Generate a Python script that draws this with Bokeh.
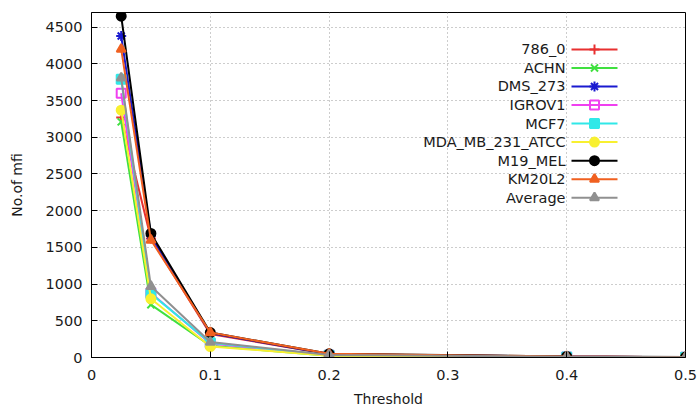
from bokeh.plotting import figure
from bokeh.models import Range1d, FixedTicker
from bokeh.core.properties import value
from bokeh.embed import file_html
from bokeh.resources import INLINE

# Threshold values on the x axis
thresholds = [0.025, 0.05, 0.1, 0.2, 0.4, 0.5]

# Number of mfi per cell line at each threshold
s_786_0 = [3270, 1620, 320, 45, 12, 5]
s_achn = [3210, 720, 160, 25, 6, 2]
s_dms_273 = [4380, 1660, 330, 45, 12, 5]
s_igrov1 = [3600, 880, 190, 30, 8, 3]
s_mcf7 = [3790, 870, 200, 30, 8, 3]
s_mda = [3370, 800, 150, 25, 6, 2]
s_m19_mel = [4650, 1690, 340, 50, 14, 6]
s_km20l2 = [4200, 1600, 340, 50, 13, 5]
s_average = [3810, 970, 210, 35, 10, 4]

names = ["786_0", "ACHN", "DMS_273", "IGROV1", "MCF7",
         "MDA_MB_231_ATCC", "M19_MEL", "KM20L2", "Average"]
series = [s_786_0, s_achn, s_dms_273, s_igrov1, s_mcf7,
          s_mda, s_m19_mel, s_km20l2, s_average]

x_ticks = [0, 0.1, 0.2, 0.3, 0.4, 0.5]
y_ticks = [0, 500, 1000, 1500, 2000, 2500, 3000, 3500, 4000, 4500]

# Line colour, marker, marker size and marker fill for each series
styles = [
    ("#e83030", "cross", 10, True),
    ("#40e040", "x", 10, True),
    ("#1a1ad0", "asterisk", 10, True),
    ("#f040f0", "square", 9, False),
    ("#30e8e8", "square", 9, True),
    ("#f8f030", "circle", 9, True),
    ("#000000", "circle", 9, True),
    ("#f06020", "triangle", 9, True),
    ("#909090", "triangle", 9, True),
]

W, H = 697, 409
BL, BR, BT, BB = 91, 12, 12, 51
X0, X1 = 0.0, 0.5
Y0, Y1 = 0.0, 4700.0

p = figure(width=W, height=H, output_backend="svg", toolbar_location=None,
           x_range=Range1d(X0, X1), y_range=Range1d(Y0, Y1),
           min_border_left=BL, min_border_right=BR,
           min_border_top=BT, min_border_bottom=BB)
p.background_fill_color = "white"
p.border_fill_color = "white"
p.outline_line_color = "#000000"
p.outline_line_width = 1

FONT = "DejaVu Sans"
TEXT_COLOR = "#1a1a1a"
for ax in (p.xaxis[0], p.yaxis[0]):
    ax.axis_line_color = "#000000"
    ax.major_tick_in = 6
    ax.major_tick_out = 0
    ax.minor_tick_line_color = None
    ax.major_tick_line_color = "#000000"
    ax.major_label_text_font = FONT
    ax.major_label_text_font_size = "14.5px"
    ax.major_label_text_color = TEXT_COLOR
    ax.axis_label_text_font = FONT
    ax.axis_label_text_font_size = "14px"
    ax.axis_label_text_font_style = "normal"
    ax.axis_label_text_color = TEXT_COLOR

p.xaxis.ticker = FixedTicker(ticks=x_ticks)
p.yaxis.ticker = FixedTicker(ticks=y_ticks)
p.xaxis.major_label_overrides = {0: "0"}
p.xaxis.axis_label = "Threshold"
p.yaxis.axis_label = "No.of mfi"
p.xaxis.major_label_standoff = 12
p.xaxis.axis_label_standoff = 8
p.yaxis.major_label_standoff = 9
p.yaxis.axis_label_standoff = 18

for g in (p.xgrid, p.ygrid):
    g.grid_line_color = "#9a9a9a"
    g.grid_line_dash = "1 3"
    g.grid_line_width = 1

# Data lines and markers
for name, ys, (col, mk, sz, filled) in zip(names, series, styles):
    p.line(thresholds, ys, line_color=col, line_width=2)
    p.scatter(thresholds, ys, marker=mk, size=sz, line_color=col, line_width=2,
              fill_color=col if filled else "white",
              fill_alpha=1.0 if filled else 0.0)

# Key in the upper right: label on the left, line sample with marker on the right
fw = W - BL - BR
fh = H - BT - BB


def px_to_x(px):
    return X0 + (px - BL) / fw * (X1 - X0)


def py_to_y(py):
    return Y1 - (py - BT) / fh * (Y1 - Y0)


key_text_px = 565
key_line_px = (571, 617)
key_mark_px = 594
key_top_py = 49
key_step = 18.6

for i, (name, (col, mk, sz, filled)) in enumerate(zip(names, styles)):
    yy = py_to_y(key_top_py + i * key_step)
    p.text([px_to_x(key_text_px)], [yy], text=[name], text_align="right",
           text_baseline="middle", text_font=value(FONT),
           text_font_size="14.5px", text_color=TEXT_COLOR)
    p.segment([px_to_x(key_line_px[0])], [yy], [px_to_x(key_line_px[1])], [yy],
              line_color=col, line_width=2)
    p.scatter([px_to_x(key_mark_px)], [yy], marker=mk, size=sz, line_color=col,
              line_width=2, fill_color=col if filled else "white",
              fill_alpha=1.0 if filled else 0.0)

open("out.html", "w").write(file_html(p, INLINE))
